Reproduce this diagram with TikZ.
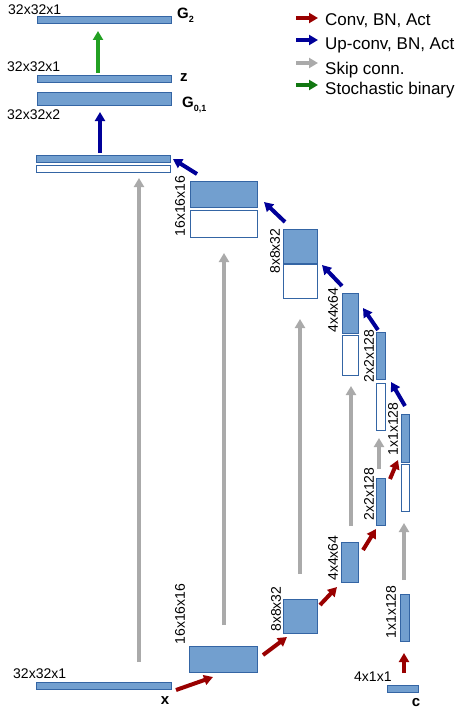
\documentclass[tikz,border=0pt]{standalone}
\usepackage{fontspec}
\setmainfont{Liberation Sans}
\usetikzlibrary{arrows.meta}
\definecolor{boxfill}{HTML}{729FCF}
\definecolor{boxline}{HTML}{3465A4}
\definecolor{redarr}{HTML}{990000}
\definecolor{bluearr}{HTML}{000099}
\definecolor{grayarr}{HTML}{AAAAAA}
\definecolor{greenarr}{HTML}{22A022}
\definecolor{greenleg}{HTML}{117711}
\tikzset{
  fb/.style={draw=boxline, fill=boxfill, line width=0.9pt, inner sep=0pt, anchor=north west},
  wb/.style={draw=boxline, fill=white, line width=0.9pt, inner sep=0pt, anchor=north west},
  arr/.style={line width=4pt, -{Triangle[length=9pt,width=10pt]}},
  redA/.style={arr, draw=redarr},
  blueA/.style={arr, draw=bluearr},
  grayA/.style={arr, draw=grayarr},
  greenA/.style={arr, draw=greenarr},
  lab/.style={inner sep=0pt, font=\fontsize{14}{16}\selectfont},
  rlab/.style={lab, rotate=90},
  blab/.style={inner sep=0pt, font=\fontsize{15}{17}\selectfont\bfseries},
  leg/.style={inner sep=0pt, anchor=west, font=\fontsize{17}{20}\selectfont},
}
\newcommand\bx[6]{\node[#1, minimum width=#5pt-#3pt, minimum height=#6pt-#4pt] (#2) at (#3,#4) {};}
\begin{document}
\begin{tikzpicture}[x=1pt,y=-1pt]
\useasboundingbox (0,0) rectangle (460,709);
% decoder boxes
\bx{fb}{g2}{37}{16}{171}{23}
\bx{fb}{z}{37}{75}{171}{82}
\bx{fb}{g01}{37}{92}{171}{105}
\bx{fb}{d32f}{36}{155}{170}{162}
\bx{wb}{d32w}{36}{165}{170}{172}
\bx{fb}{d16f}{190}{181}{257}{207}
\bx{wb}{d16w}{190}{210}{257}{237}
\bx{fb}{d8f}{283}{229}{317}{263}
\bx{wb}{d8w}{283}{264}{317}{298}
\bx{fb}{d4f}{342}{293}{358}{333}
\bx{wb}{d4w}{342}{335}{358}{375}
\bx{fb}{d2f}{376}{332}{385}{379}
\bx{wb}{d2w}{376}{383}{385}{430}
\bx{fb}{d1f}{401}{414}{409}{462}
\bx{wb}{d1w}{401}{464}{409}{511}
% encoder boxes
\bx{fb}{e2}{376}{478}{385}{525}
\bx{fb}{e4}{341}{542}{358}{582}
\bx{fb}{e8}{283}{599}{317}{633}
\bx{fb}{e16}{189}{646}{257}{672}
\bx{fb}{ex}{36}{682}{171}{689}
\bx{fb}{e1}{400}{594}{409}{641}
\bx{fb}{ec}{387}{685}{418}{692}
% labels
\node[lab, anchor=west] (l1) at (8,10) {32x32x1};
\node[lab, anchor=west] (l2) at (7,67) {32x32x1};
\node[lab, anchor=west] (l3) at (7,115) {32x32x2};
\node[lab, anchor=west] (l4) at (13,674) {32x32x1};
\node[lab, anchor=west] (l5) at (354,677) {4x1x1};
\node[rlab] (r1) at (180,206) {16x16x16};
\node[rlab] (r2) at (275,251) {8x8x32};
\node[rlab] (r3) at (333,310) {4x4x64};
\node[rlab] (r4) at (369,356) {2x2x128};
\node[rlab] (r5) at (393,429) {1x1x128};
\node[rlab] (r6) at (369,494) {2x2x128};
\node[rlab] (r7) at (333,558) {4x4x64};
\node[rlab] (r8) at (276,609) {8x8x32};
\node[rlab] (r9) at (180,614) {16x16x16};
\node[rlab] (r10) at (391,612) {1x1x128};
\node[blab, anchor=west] (bg2) at (177,15) {G\raisebox{-0.55ex}{\fontsize{9}{9}\selectfont 2}};
\node[blab, anchor=west] (bz) at (180,78) {z};
\node[blab, anchor=west] (bg01) at (182,105) {G\raisebox{-0.55ex}{\fontsize{9}{9}\selectfont 0,1}};
\node[blab] (bx) at (165,701) {x};
\node[blab] (bc) at (416,703) {c};
% coordinates for arrows
\coordinate (s0a) at (139,662); \coordinate (s0b) at (139,178);
\coordinate (s1a) at (224,625); \coordinate (s1b) at (224,253);
\coordinate (s2a) at (300,574); \coordinate (s2b) at (300,319);
\coordinate (s3a) at (351,526); \coordinate (s3b) at (351,386);
\coordinate (s4a) at (379,469); \coordinate (s4b) at (379,438);
\coordinate (s5a) at (404,580); \coordinate (s5b) at (404,523);
\coordinate (r0a) at (176,690); \coordinate (r0b) at (213,677);
\coordinate (r1a) at (263,655); \coordinate (r1b) at (287,637);
\coordinate (r2a) at (320,605); \coordinate (r2b) at (337,587);
\coordinate (r3a) at (363,550); \coordinate (r3b) at (376,529);
\coordinate (r4a) at (390,479); \coordinate (r4b) at (398,460);
\coordinate (r5a) at (404,673); \coordinate (r5b) at (404,653);
\coordinate (u0a) at (405,406); \coordinate (u0b) at (391,382);
\coordinate (u1a) at (378,330); \coordinate (u1b) at (363,308);
\coordinate (u2a) at (342,286); \coordinate (u2b) at (322,265);
\coordinate (u3a) at (285,222); \coordinate (u3b) at (264,202);
\coordinate (u4a) at (197,174); \coordinate (u4b) at (173,159);
\coordinate (u5a) at (100,153); \coordinate (u5b) at (100,112);
\coordinate (g0a) at (98,73); \coordinate (g0b) at (98,31);
% skip arrows
\foreach \i in {0,...,5} \draw[grayA] (s\i a) -- (s\i b);
% conv arrows
\foreach \i in {0,...,5} \draw[redA] (r\i a) -- (r\i b);
% up-conv arrows
\foreach \i in {0,...,5} \draw[blueA] (u\i a) -- (u\i b);
\draw[greenA] (g0a) -- (g0b);
% legend
\coordinate (la1) at (296,18); \coordinate (lb1) at (318,18);
\coordinate (la2) at (296,40); \coordinate (lb2) at (318,40);
\coordinate (la3) at (296,63); \coordinate (lb3) at (318,63);
\coordinate (la4) at (296,85); \coordinate (lb4) at (318,85);
\draw[redA] (la1) -- (lb1);
\draw[blueA] (la2) -- (lb2);
\draw[grayA] (la3) -- (lb3);
\draw[arr, draw=greenleg] (la4) -- (lb4);
\node[leg] (t1) at (325,21) {Conv, BN, Act};
\node[leg] (t2) at (325,45) {Up-conv, BN, Act};
\node[leg] (t3) at (325,70) {Skip conn.};
\node[leg] (t4) at (325,90) {Stochastic binary};
\end{tikzpicture}
\end{document}
